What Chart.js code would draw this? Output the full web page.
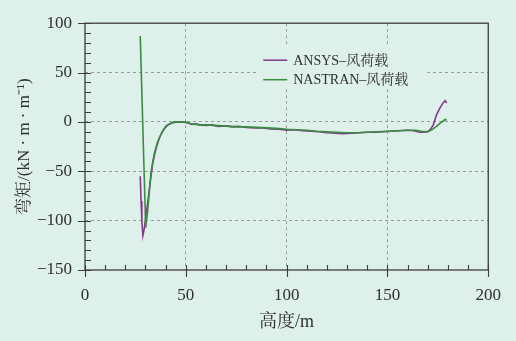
<!DOCTYPE html>
<html><head><meta charset="utf-8">
<script src="https://cdn.jsdelivr.net/npm/chart.js@4/dist/chart.umd.min.js"></script>
<style>html,body{margin:0;padding:0;background:#def0ea;}canvas{display:block;}</style>
</head><body>
<canvas id="c" width="516" height="341"></canvas>
<script>
const seriesNames = ['ANSYS–风荷载', 'NASTRAN–风荷载'];
const heightsA = [27.4,27.8,28.2,28.7,29.5,30.3,31.4,32.4,33.5,34.5,35.5,36.5,37.5,38.5,39.5,40.5,41.5,42.5,43.5,45,47,49,51,53,55,57,60,63,66,70,73,76,80,84,88,92,96,100,104,108,112,116,120,124,128,132,136,140,144,148,152,156,160,163,166,168,170,171.5,172.8,174.4,176,177.5,178.6,179.4];
const momentA = [-55,-80,-100,-115,-107,-94,-77,-60,-43,-33,-25,-18.5,-13.5,-9.5,-6.5,-4.3,-2.7,-1.6,-0.8,-0.2,0,-0.3,-1,-2.5,-2,-3,-3.5,-3,-4.5,-4,-5,-4.5,-5.5,-6,-6,-7,-7.5,-8.5,-8,-9,-9.5,-10,-11,-11.5,-12,-11.5,-11,-10.5,-10.5,-10,-9.5,-9,-8.5,-9,-10.5,-10.5,-10,-7,-2.7,7.4,14,19,21.6,19];
const heightsN = [27.4,30.1,31.1,32,32.8,33.5,34.3,35.2,36,36.9,37.7,38.5,39.3,40.1,41,41.8,43,44.2,46.7,49,51,53,56,60,64,68,72,76,80,85,90,95,100,105,110,115,120,125,130,135,140,145,150,155,160,164,167,170,172,174,175.3,177,178.6,179.4];
const momentN = [87,-107,-90,-68,-50,-42,-33,-26,-20,-16,-12.5,-9.4,-6.8,-4.3,-3,-2,-1,0,0,0,-0.7,-2,-2.8,-3,-3.5,-4,-4.5,-5,-5,-5.5,-6,-6.5,-7.5,-8,-8.5,-9.5,-10,-10.5,-11,-11,-10.5,-10,-9.5,-9,-8.5,-8.5,-9.5,-9.8,-8,-5,-2.7,0,2.4,1.6];
const xTicks = [0,50,100,150,200];
const yTicks = [-150,-100,-50,0,50,100];
const xTitle = '高度/m';
const yTitle = '弯矩/(kN · m · m⁻¹)';

const BG = '#def0ea';
const FONT = "'Liberation Serif', 'Noto Serif CJK SC', 'Noto Sans CJK SC', serif";
const TXT = '#2f2f2f';
const AX = '#3c3c3c';
const colA = '#86398c', colN = '#3a8c42';

const pts = (xs, ys) => xs.map((x, i) => ({x, y: ys[i]}));
const xMin = xTicks[0], xMax = xTicks[xTicks.length-1];
const yMin = yTicks[0], yMax = yTicks[yTicks.length-1];

const gridColor = (min, max) => (ctx) => (ctx.tick && (ctx.tick.value === min || ctx.tick.value === max)) ? 'rgba(0,0,0,0)' : '#9a9a9a';

const custom = {
  id: 'custom',
  beforeDraw(chart) {
    const c = chart.ctx; c.save(); c.fillStyle = BG; c.fillRect(0,0,chart.width,chart.height); c.restore();
  },
  afterDraw(chart) {
    const c = chart.ctx; const {left, top, right, bottom} = chart.chartArea;
    const xs = chart.scales.x, ys = chart.scales.y;
    c.save();
    c.strokeStyle = AX; c.lineWidth = 1.3;
    c.strokeRect(left, top, right-left, bottom-top);
    c.lineWidth = 1.1;
    c.beginPath();
    for (let v = yMin; v <= yMax; v += 10) {
      const py = Math.round(ys.getPixelForValue(v)) + 0.5;
      const major = yTicks.includes(v);
      c.moveTo(left - (major ? 7 : 0), py); c.lineTo(left + 6, py);
    }
    for (let v = xMin; v <= xMax; v += 10) {
      const px = Math.round(xs.getPixelForValue(v)) + 0.5;
      const major = xTicks.includes(v);
      c.moveTo(px, bottom + (major ? 7 : 0)); c.lineTo(px, bottom - 5);
    }
    c.stroke();
    // legend
    const lx = right - 225, ly = top + 24;
    c.fillStyle = BG; c.fillRect(lx - 6, ly - 2, 170, 44);
    const cols = [colA, colN];
    c.font = '14px ' + FONT; c.textBaseline = 'middle'; c.textAlign = 'left';
    seriesNames.forEach((n, i) => {
      const yy = ly + 13 + i * 19.5;
      c.strokeStyle = cols[i]; c.lineWidth = 1.5;
      c.beginPath(); c.moveTo(lx, yy); c.lineTo(lx + 24, yy); c.stroke();
      c.fillStyle = TXT; c.fillText(n, lx + 30, yy + 1);
    });
    c.restore();
  }
};

new Chart(document.getElementById('c'), {
  type: 'scatter',
  data: { datasets: [
    { label: seriesNames[1], data: pts(heightsN, momentN), showLine: true, borderColor: colN, backgroundColor: colN, borderWidth: 1.6, pointRadius: 0, tension: 0 },
    { label: seriesNames[0], data: pts(heightsA, momentA), showLine: true, borderColor: colA, backgroundColor: colA, borderWidth: 1.6, pointRadius: 0, tension: 0 }
  ]},
  options: {
    responsive: false, animation: false, devicePixelRatio: 1,
    layout: { padding: { left: 0, top: 22, right: 24, bottom: 0 } },
    plugins: { legend: { display: false }, tooltip: { enabled: false } },
    scales: {
      x: { type: 'linear', min: xMin, max: xMax,
        afterBuildTicks: (s) => { s.ticks = xTicks.map(v => ({value: v})); },
        afterFit: (s) => { s.height = 71; },
        ticks: { font: { size: 17, family: FONT }, color: TXT, padding: 15, maxRotation: 0 },
        grid: { drawTicks: false, color: gridColor(xMin, xMax), lineWidth: 1 },
        border: { display: false, dash: [3, 3] },
        title: { display: true, text: xTitle, font: { size: 18, family: FONT }, color: TXT, padding: { top: 0, bottom: 8 } }
      },
      y: { type: 'linear', min: yMin, max: yMax,
        afterBuildTicks: (s) => { s.ticks = yTicks.map(v => ({value: v})); },
        afterFit: (s) => { s.width = 85; },
        ticks: { font: { size: 17, family: FONT }, color: TXT, padding: 13, callback: (v) => String(v).replace('-', '\u2212') },
        grid: { drawTicks: false, color: gridColor(yMin, yMax), lineWidth: 1 },
        border: { display: false, dash: [3, 3] },
        title: { display: true, text: yTitle, font: { size: 17, family: FONT }, color: TXT, padding: { top: 14, bottom: 0 } }
      }
    }
  },
  plugins: [custom]
});
</script>
</body></html>
